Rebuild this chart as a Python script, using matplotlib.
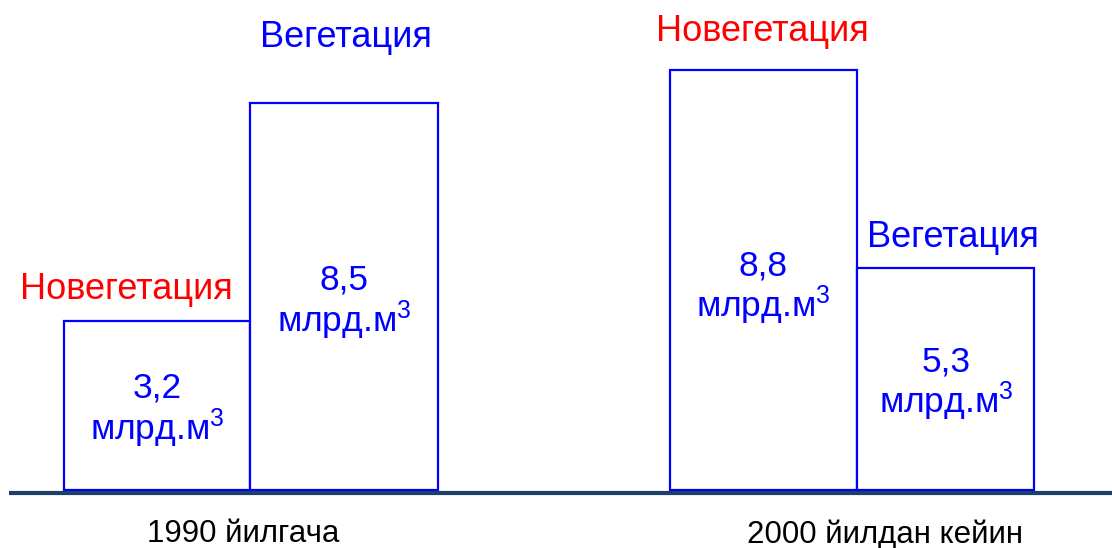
import matplotlib
matplotlib.use("Agg")
import matplotlib.pyplot as plt

plt.rcParams['font.family'] = ['Liberation Sans', 'DejaVu Sans']
plt.rcParams['mathtext.fontset'] = 'custom'
plt.rcParams['mathtext.rm'] = 'Liberation Sans'
plt.rcParams['mathtext.it'] = 'Liberation Sans:italic'
plt.rcParams['mathtext.bf'] = 'Liberation Sans:bold'

# ---- data ----
periods = ["1990 йилгача", "2000 йилдан кейин"]
bar_labels = ["Новегетация", "Вегетация", "Новегетация", "Вегетация"]
values = [3.2, 8.5, 8.8, 5.3]              # млрд. м3 (as labelled)
drawn_heights = [169, 387, 420, 222]       # bar heights as drawn in the picture (chart units)
unit = "млрд.м$^{3}$"

# ---- layout (pixel-like coordinates) ----
W, H = 1112, 548
base_px = 490
bar_left = [64, 250, 670, 857]
bar_width = [186, 188, 187, 177]
label_colors = ["#FF0000", "#0000FF", "#FF0000", "#0000FF"]
label_x = [126, 346, 762, 953]
label_base = [299, 47, 41, 247]
val_x = [157, 344, 763, 946]
val_base = [398, 289, 276, 372]
unit_base = [440, 332, 317, 413]
period_x = [243, 885]
period_base = [542, 543]

def py(p):
    return base_px - p

fig = plt.figure(figsize=(W / 100, H / 100), dpi=100)
ax = fig.add_axes([0, 0, 1, 1])
ax.set_xlim(0, W)
ax.set_ylim(base_px - H, base_px)
ax.axis('off')

ax.bar(bar_left, drawn_heights, width=bar_width, align='edge', bottom=0,
       facecolor='white', edgecolor='#0000FF', linewidth=1.6, zorder=2)

ax.plot([9, W], [py(493), py(493)], color='#1F3F6B', linewidth=3.0,
        solid_capstyle='butt', zorder=3)

for i in range(4):
    ax.text(label_x[i], py(label_base[i]), bar_labels[i], color=label_colors[i],
            fontsize=26, ha='center', va='baseline', zorder=4)
    ax.text(val_x[i], py(val_base[i]), f"{values[i]:.1f}".replace('.', ','),
            color='#0000FF', fontsize=25.5, ha='center', va='baseline', zorder=4)
    ax.text(val_x[i], py(unit_base[i]), unit, color='#0000FF',
            fontsize=25.5, ha='center', va='baseline', zorder=4)

for j in range(2):
    ax.text(period_x[j], py(period_base[j]), periods[j], color='black',
            fontsize=22.5, ha='center', va='baseline', zorder=4)

fig.savefig("out.png", dpi=100, facecolor='white')
